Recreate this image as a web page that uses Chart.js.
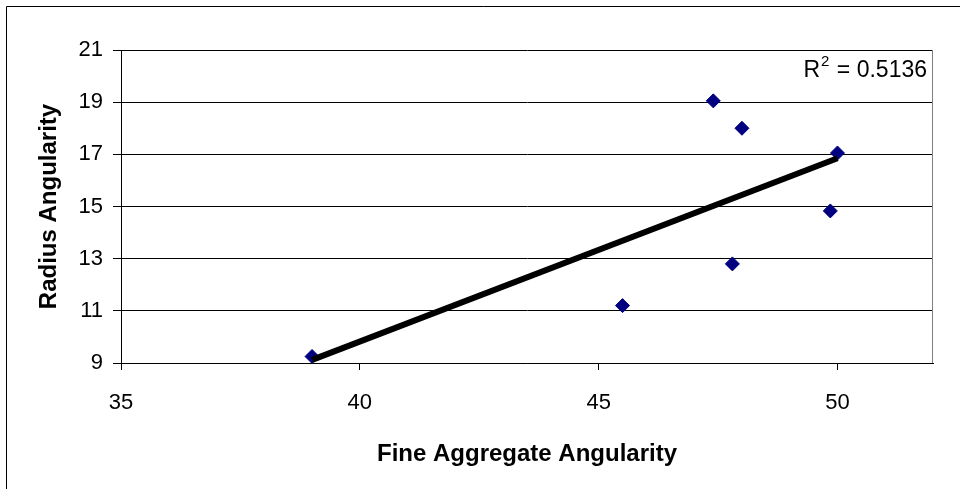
<!DOCTYPE html>
<html>
<head>
<meta charset="utf-8">
<title>Radius Angularity vs Fine Aggregate Angularity</title>
<script src="https://cdn.jsdelivr.net/npm/chart.js@4/dist/chart.umd.min.js"></script>
<style>
  html, body { margin: 0; padding: 0; background: #fff; }
  #wrap { position: relative; width: 960px; height: 489px; }
  canvas { display: block; }
</style>
</head>
<body>
<div id="wrap"><canvas id="chart" width="960" height="489"></canvas></div>
<script>
// Measured aggregate samples
const fineAggregate    = [39.0, 45.5, 47.4, 48.0, 50.0, 49.85, 47.8];
const radiusAngularity = [9.25, 11.2, 19.05, 18.0, 17.05, 14.83, 12.8];

// Axis ticks
const xTicks = [35, 40, 45, 50];
const yTicks = [9, 11, 13, 15, 17, 19, 21];

// Fit statistic shown in the corner
const rSquaredText = '0.5136';

const FONT = '"Liberation Sans", Arial, sans-serif';

// Least-squares line through the samples, drawn across the data range
function linearFit(xs, ys) {
  const n = xs.length;
  const mx = xs.reduce((a, b) => a + b, 0) / n;
  const my = ys.reduce((a, b) => a + b, 0) / n;
  let sxy = 0, sxx = 0;
  for (let i = 0; i < n; i++) {
    sxy += (xs[i] - mx) * (ys[i] - my);
    sxx += (xs[i] - mx) * (xs[i] - mx);
  }
  const slope = sxy / sxx;
  return { slope, intercept: my - slope * mx };
}
const fit = linearFit(fineAggregate, radiusAngularity);
const xLo = Math.min(...fineAggregate);
const xHi = Math.max(...fineAggregate);
const trendPoints = [
  { x: xLo, y: fit.intercept + fit.slope * xLo },
  { x: xHi, y: fit.intercept + fit.slope * xHi }
];

const samplePoints = fineAggregate.map((x, i) => ({ x, y: radiusAngularity[i] }));

// Outer frame, right edge of the plot and the R² note
const decorations = {
  id: 'decorations',
  beforeDraw(chart) {
    const ctx = chart.ctx;
    ctx.save();
    ctx.fillStyle = '#fff';
    ctx.fillRect(0, 0, chart.width, chart.height);
    ctx.strokeStyle = '#000';
    ctx.lineWidth = 1;
    ctx.beginPath();
    ctx.moveTo(6.5, chart.height + 2);
    ctx.lineTo(6.5, 6.5);
    ctx.lineTo(chart.width + 2, 6.5);
    ctx.stroke();
    ctx.restore();
  },
  afterDatasetsDraw(chart) {
    const ctx = chart.ctx;
    const a = chart.chartArea;
    ctx.save();
    ctx.strokeStyle = '#808080';
    ctx.lineWidth = 1;
    ctx.beginPath();
    ctx.moveTo(Math.round(a.right) - 0.5, a.top);
    ctx.lineTo(Math.round(a.right) - 0.5, a.bottom);
    ctx.stroke();

    // "R² = 0.5136", right aligned near the top-right corner
    const baseY = a.top + 27;
    const rightX = a.right - 6;
    ctx.fillStyle = '#000';
    ctx.textBaseline = 'alphabetic';
    ctx.textAlign = 'left';
    ctx.font = '23px ' + FONT;
    const tail = ' = ' + rSquaredText;
    const tailW = ctx.measureText(tail).width;
    const rW = ctx.measureText('R').width;
    ctx.font = '15px ' + FONT;
    const supW = ctx.measureText('2').width + 2;
    const startX = rightX - tailW - supW - rW;
    ctx.font = '23px ' + FONT;
    ctx.fillText('R', startX, baseY);
    ctx.fillText(tail, startX + rW + supW, baseY);
    ctx.font = '15px ' + FONT;
    ctx.fillText('2', startX + rW + 1, baseY - 11);
    ctx.restore();
  }
};

new Chart(document.getElementById('chart'), {
  type: 'scatter',
  data: {
    datasets: [
      {
        label: 'Trend',
        data: trendPoints,
        showLine: true,
        borderColor: '#000',
        borderWidth: 6,
        borderCapStyle: 'butt',
        pointRadius: 0,
        pointHoverRadius: 0,
        fill: false,
        order: 0
      },
      {
        label: 'Radius Angularity',
        data: samplePoints,
        pointStyle: 'rectRot',
        pointRadius: 7,
        pointHoverRadius: 7,
        backgroundColor: '#000080',
        borderColor: '#000080',
        borderWidth: 1,
        order: 1
      }
    ]
  },
  options: {
    responsive: false,
    animation: false,
    layout: { padding: { left: 28, top: 50, right: 27, bottom: 0 } },
    plugins: {
      legend: { display: false },
      tooltip: { enabled: false }
    },
    scales: {
      x: {
        type: 'linear',
        position: 'bottom',
        min: 35,
        max: 52,
        afterBuildTicks(scale) { scale.ticks = xTicks.map(v => ({ value: v })); },
        afterFit(scale) { scale.height = 126; },
        grid: {
          drawOnChartArea: false,
          drawTicks: true,
          tickLength: 7,
          color: '#000',
          lineWidth: 1
        },
        border: { display: true, color: '#000', width: 1 },
        ticks: {
          color: '#000',
          font: { family: FONT, size: 22 },
          padding: 20,
          maxRotation: 0
        },
        title: {
          display: true,
          text: 'Fine Aggregate Angularity',
          color: '#000',
          font: { family: FONT, size: 24, weight: 'bold' },
          padding: { top: 0, bottom: 20 }
        }
      },
      y: {
        type: 'linear',
        min: 9,
        max: 21,
        afterBuildTicks(scale) { scale.ticks = yTicks.map(v => ({ value: v })); },
        afterFit(scale) { scale.width = 93; },
        grid: {
          drawOnChartArea: true,
          drawTicks: true,
          tickLength: 8,
          color: '#000',
          lineWidth: 1
        },
        border: { display: true, color: '#000', width: 1 },
        ticks: {
          color: '#000',
          font: { family: FONT, size: 22 },
          padding: 10
        },
        title: {
          display: true,
          text: 'Radius Angularity',
          color: '#000',
          font: { family: FONT, size: 24, weight: 'bold' },
          padding: { top: 7, bottom: 0 }
        }
      }
    }
  },
  plugins: [decorations]
});
</script>
</body>
</html>
